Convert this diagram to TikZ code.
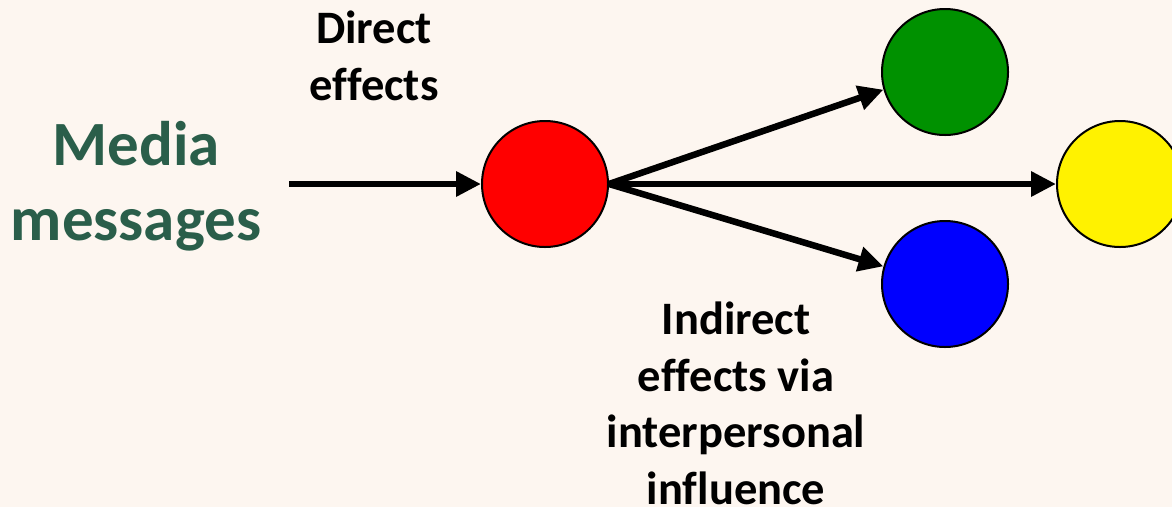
\documentclass[tikz,border=0pt]{standalone}
\usepackage{fontspec}
\setmainfont{Carlito}[Ligatures={NoCommon}]
\usetikzlibrary{arrows.meta}
\definecolor{bg}{RGB}{253,246,240}
\definecolor{mediagreen}{RGB}{42,94,74}
\definecolor{ngreen}{RGB}{0,145,0}
\tikzset{
  dot/.style={circle,draw=black,line width=2pt,minimum size=126pt,inner sep=0pt},
  conn/.style={line width=6.5pt,-{Triangle[length=25pt,width=24pt]}},
  lbl/.style={font=\bfseries\fontsize{46.5}{56.5}\selectfont,align=center,text=black,inner sep=0pt},
}
\begin{document}
\begin{tikzpicture}[x=1pt,y=-1pt]
\useasboundingbox (0,0) rectangle (1172,507);
\fill[bg] (0,0) rectangle (1172,507);
\clip (0,0) rectangle (1172,507);
\node[lbl,text=mediagreen,font=\bfseries\fontsize{63}{75}\selectfont] (media) at (136,186) {Media\\messages};
\coordinate (start) at (289,184);
\node[dot,fill=red] (red) at (545,184) {};
\node[dot,fill=ngreen] (green) at (945,72) {};
\node[dot,fill=blue] (blue) at (945,284) {};
\node[dot,fill=yellow] (yellow) at (1120,184) {};
\node[lbl] (direct) at (374,56) {Direct\\effects};
\node[lbl,anchor=north] (indirect) at (736,302) {Indirect\\effects via\\interpersonal\\influence};
\draw[conn] (start) -- (red);
\draw[conn] (red.east) -- (green.196);
\draw[conn] (red.east) -- (yellow);
\draw[conn] (red.east) -- (blue.164);
\end{tikzpicture}
\end{document}
